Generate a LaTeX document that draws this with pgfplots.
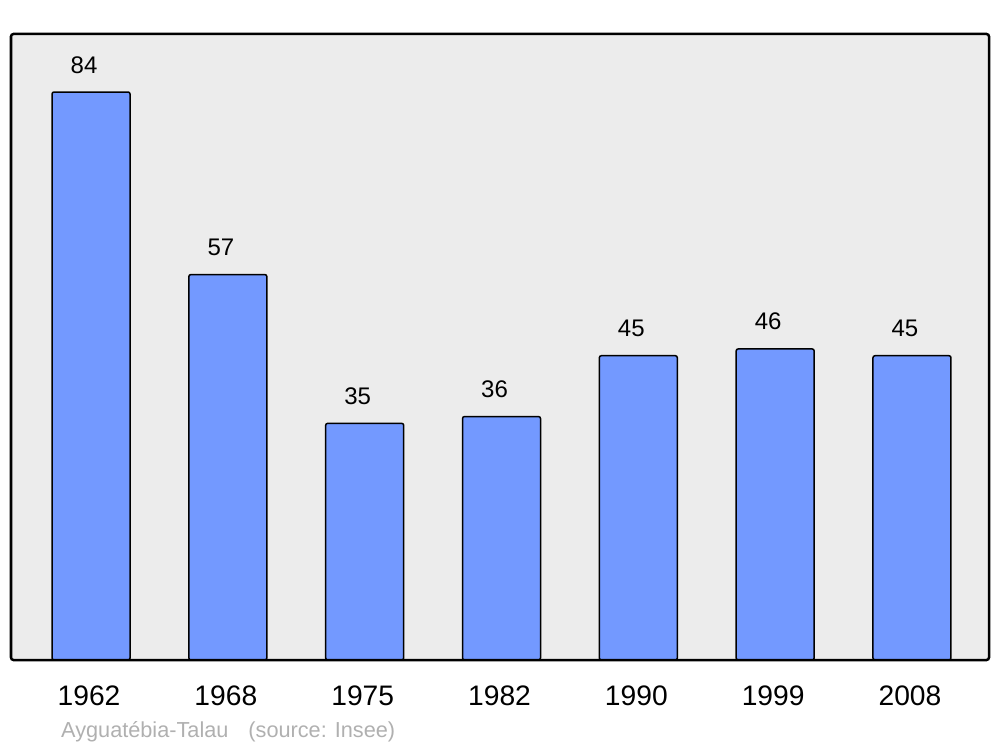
\documentclass[border=0pt]{standalone}
\usepackage{pgfplots}
\pgfplotsset{compat=1.18}
\usepackage{fontspec}
\setmainfont{Liberation Sans}
\definecolor{barfill}{HTML}{7399FF}
\definecolor{bg}{HTML}{ECECEC}
\definecolor{srcgray}{HTML}{B0B0B0}
\begin{document}
\begin{tikzpicture}[x=1bp,y=1bp]
\useasboundingbox (-11bp,-87bp) rectangle (989bp,660bp);
\begin{axis}[
  at={(0,0)}, anchor=south west,
  scale only axis,
  width=978bp, height=626bp,
  xmin=-0.585, xmax=6.563,
  ymin=0, ymax=92.58,
  /pgf/number format/assume math mode=true,
  axis line style={draw=none},
  axis background/.style={fill=bg},
  ytick=\empty,
  xtick=data,
  xticklabels={1962,1968,1975,1982,1990,1999,2008},
  major tick length=0pt,
  xticklabel style={font=\fontsize{28.2bp}{30bp}\selectfont, anchor=base, yshift=-45bp, xshift=-2bp},
  clip=false,
  nodes near coords,
  every node near coord/.append style={font=\fontsize{24bp}{26bp}\selectfont, anchor=base, yshift=19bp, xshift=-7bp, black},
]
\addplot[ybar, bar width=78bp, fill=barfill, draw=black, line width=1.5bp, rounded corners=2bp] coordinates {
(0,84) (1,57) (2,35) (3,36) (4,45) (5,46) (6,45)
};
\draw[line width=2.5bp, rounded corners=2.5bp] (rel axis cs:0,0) rectangle (rel axis cs:1,1);
\node[anchor=base west, text=srcgray, font=\fontsize{21.7bp}{23bp}\selectfont, inner sep=0pt] at ([xshift=50bp,yshift=-77bp]rel axis cs:0,0) {Ayguatébia-Talau\hspace{20bp}(source: Insee)};
\end{axis}
\end{tikzpicture}
\end{document}
